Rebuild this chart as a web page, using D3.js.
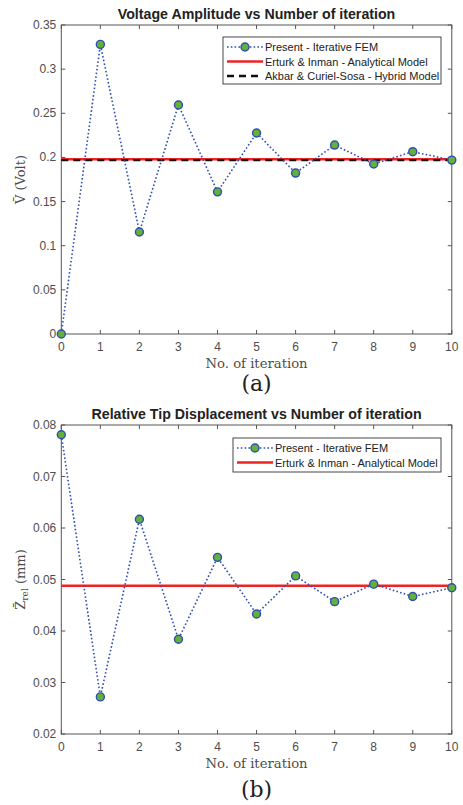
<!DOCTYPE html>
<html><head><meta charset="utf-8">
<script src="https://cdn.jsdelivr.net/npm/d3@7"></script>
<style>body{margin:0;background:#fff}svg{display:block}</style>
</head><body>
<svg id="c" width="463" height="805"></svg>
<script>
const iterations = [0,1,2,3,4,5,6,7,8,9,10];
const voltageFEM = [0,0.328,0.1155,0.2594,0.161,0.2277,0.1823,0.214,0.1925,0.2065,0.197];
const voltageAnalytical = 0.198;
const voltageHybrid = 0.197;
const dispFEM = [0.0781,0.0272,0.0617,0.0384,0.0543,0.0433,0.0507,0.0457,0.0491,0.0467,0.0484];
const dispAnalytical = 0.0488;
const xTicks = [0,1,2,3,4,5,6,7,8,9,10];
const vTicks = [0,0.05,0.1,0.15,0.2,0.25,0.3,0.35];
const zTicks = [0.02,0.03,0.04,0.05,0.06,0.07,0.08];
const legendTop = ["Present - Iterative FEM","Erturk & Inman - Analytical Model","Akbar & Curiel-Sosa - Hybrid Model"];
const legendBottom = ["Present - Iterative FEM","Erturk & Inman - Analytical Model"];

const svg = d3.select("#c");
const AX = "#555", TXT = "#4d4d4d";
const BLUE = "#2e4fb0", GREEN = "#63b03a", RED = "#ee2424";
const SANS = "Liberation Sans, Arial, sans-serif";
const SERIF = "DejaVu Serif, Liberation Serif, serif";

function panel(o){
  const g = svg.append("g");
  const x = d3.scaleLinear().domain([0,10]).range([61.3,451.8]);
  const y = d3.scaleLinear().domain(o.domain).range([o.bottom,o.top]);
  const tl = 4;
  o.yTicks.forEach(v=>{
    g.append("line").attr("x1",x.range()[0]).attr("x2",x.range()[0]+tl).attr("y1",y(v)).attr("y2",y(v)).attr("stroke",AX);
    g.append("line").attr("x1",x.range()[1]).attr("x2",x.range()[1]-tl).attr("y1",y(v)).attr("y2",y(v)).attr("stroke",AX);
    g.append("text").attr("x",x.range()[0]-5).attr("y",y(v)+4).attr("text-anchor","end")
     .attr("font-family",SANS).attr("font-size",12).attr("fill",TXT).text(String(v));
  });
  xTicks.forEach(v=>{
    g.append("line").attr("x1",x(v)).attr("x2",x(v)).attr("y1",o.bottom).attr("y2",o.bottom-tl).attr("stroke",AX);
    g.append("line").attr("x1",x(v)).attr("x2",x(v)).attr("y1",o.top).attr("y2",o.top+tl).attr("stroke",AX);
    g.append("text").attr("x",x(v)).attr("y",o.bottom+17).attr("text-anchor","middle")
     .attr("font-family",SANS).attr("font-size",12).attr("fill",TXT).text(String(v));
  });
  g.append("rect").attr("x",x.range()[0]).attr("y",o.top).attr("width",x.range()[1]-x.range()[0]).attr("height",o.bottom-o.top)
   .attr("fill","none").attr("stroke",AX).attr("stroke-width",1);
  o.refs.forEach(r=>{
    g.append("line").attr("x1",x(0)).attr("x2",x(10)).attr("y1",y(r.v)).attr("y2",y(r.v))
     .attr("stroke",r.color).attr("stroke-width",r.w).attr("stroke-dasharray",r.dash||null);
  });
  const pts = iterations.map((it,i)=>[it,o.fem[i]]);
  g.append("path").attr("d",d3.line().x(d=>x(d[0])).y(d=>y(d[1]))(pts))
   .attr("fill","none").attr("stroke",BLUE).attr("stroke-width",1.6).attr("stroke-dasharray","1.6,2.2");
  g.selectAll(null).data(pts).enter().append("circle").attr("cx",d=>x(d[0])).attr("cy",d=>y(d[1])).attr("r",4)
   .attr("fill",GREEN).attr("stroke",BLUE).attr("stroke-width",1.4);
  g.append("text").attr("x",(x.range()[0]+x.range()[1])/2).attr("y",o.top-6).attr("text-anchor","middle")
   .attr("font-family",SANS).attr("font-weight","bold").attr("font-size",14.2).attr("fill","#222").text(o.title);
  g.append("text").attr("x",(x.range()[0]+x.range()[1])/2).attr("y",o.bottom+34).attr("text-anchor","middle")
   .attr("font-family",SERIF).attr("font-size",13.2).attr("fill",TXT).text("No. of iteration");
  const yl = g.append("text").attr("transform",`translate(25,${(o.top+o.bottom)/2}) rotate(-90)`).attr("text-anchor","middle")
   .attr("font-family",SERIF).attr("font-size",13).attr("fill",TXT);
  o.ylabel(yl);
  g.append("text").attr("x",(x.range()[0]+x.range()[1])/2).attr("y",o.capY).attr("text-anchor","middle")
   .attr("font-family",SERIF).attr("font-size",22).attr("fill","#222").text(o.caption);
  const L = o.legend;
  g.append("rect").attr("x",L.x).attr("y",L.y).attr("width",L.w).attr("height",L.h).attr("fill","#fff").attr("stroke","#333").attr("stroke-width",0.9);
  L.items.forEach((t,i)=>{
    const yy = L.y+10+i*14.5, x0 = L.x+4, x1 = L.x+40;
    if(i===0){
      g.append("line").attr("x1",x0).attr("x2",x1).attr("y1",yy).attr("y2",yy).attr("stroke",BLUE).attr("stroke-width",1.6).attr("stroke-dasharray","1.6,2.2");
      g.append("circle").attr("cx",(x0+x1)/2).attr("cy",yy).attr("r",4).attr("fill",GREEN).attr("stroke",BLUE).attr("stroke-width",1.4);
    } else if(i===1){
      g.append("line").attr("x1",x0).attr("x2",x1).attr("y1",yy).attr("y2",yy).attr("stroke",RED).attr("stroke-width",2.5);
    } else {
      g.append("line").attr("x1",x0).attr("x2",x1).attr("y1",yy).attr("y2",yy).attr("stroke","#111").attr("stroke-width",2.5).attr("stroke-dasharray","7,5");
    }
    g.append("text").attr("x",x1+2).attr("y",yy+4).attr("font-family",SANS).attr("font-size",11).attr("fill","#222").text(t);
  });
}

panel({
  top:25, bottom:334, domain:[0,0.35], yTicks:vTicks, fem:voltageFEM,
  refs:[{v:voltageAnalytical,color:RED,w:2.6},{v:voltageHybrid,color:"#111",w:2.4,dash:"7,5"}],
  title:"Voltage Amplitude vs Number of iteration", caption:"(a)", capY:391,
  ylabel: t=>{ t.append("tspan").text("V\u0304"); t.append("tspan").text(" (Volt)"); },
  legend:{x:223,y:37,w:218,h:47,items:legendTop}
});
panel({
  top:425, bottom:734, domain:[0.02,0.08], yTicks:zTicks, fem:dispFEM,
  refs:[{v:dispAnalytical,color:RED,w:2.6}],
  title:"Relative Tip Displacement vs Number of iteration", caption:"(b)", capY:797,
  ylabel: t=>{ t.append("tspan").text("Z\u0304"); t.append("tspan").attr("font-size",9).attr("dy",3).text("rel"); t.append("tspan").attr("dy",-3).text(" (mm)"); },
  legend:{x:233,y:438,w:208,h:34,items:legendBottom}
});
</script>
</body></html>
